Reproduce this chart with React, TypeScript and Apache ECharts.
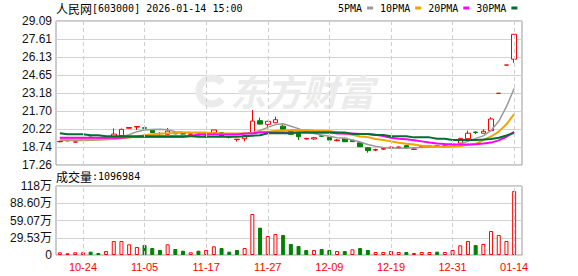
import React, { useEffect, useRef } from "react";
import * as echarts from "echarts";

// ---------- data ----------
const dates = [
  "10-21", "10-22", "10-23", "10-24", "10-27", "10-28", "10-29", "10-30", "10-31", "11-03",
  "11-04", "11-05", "11-06", "11-07", "11-10", "11-11", "11-12", "11-13", "11-14", "11-17",
  "11-18", "11-19", "11-20", "11-21", "11-24", "11-25", "11-26", "11-27", "11-28", "12-01",
  "12-02", "12-03", "12-04", "12-05", "12-08", "12-09", "12-10", "12-11", "12-12", "12-15",
  "12-16", "12-17", "12-18", "12-19", "12-22", "12-23", "12-24", "12-25", "12-26", "12-29",
  "12-30", "12-31", "01-05", "01-06", "01-07", "01-08", "01-09", "01-12", "01-13", "01-14",
];

// [open, close, low, high]
const candles = [
  [19.17, 19.2, 19.12, 19.25], [19.24, 19.27, 19.2, 19.3], [19.14, 19.16, 19.1, 19.2], [19.38, 19.41, 19.35, 19.45],
  [19.55, 19.5, 19.45, 19.6], [19.5, 19.47, 19.42, 19.55], [19.45, 19.5, 19.42, 19.55], [19.57, 19.8, 19.55, 20.27],
  [19.67, 20.19, 19.65, 20.25], [20.28, 20.34, 20.25, 20.36], [20.38, 20.42, 20.13, 20.44], [20.32, 20.28, 20.11, 20.49],
  [20.18, 19.93, 19.9, 20.2], [19.86, 19.83, 19.7, 19.95], [19.78, 20.05, 19.75, 20.3], [19.9, 19.82, 19.78, 19.95],
  [19.85, 19.8, 19.75, 19.9], [19.78, 19.82, 19.74, 19.86], [19.8, 19.72, 19.7, 19.84], [19.6, 19.63, 19.5, 19.72],
  [19.9, 20.14, 19.88, 20.16], [19.92, 19.6, 19.55, 19.95], [19.6, 19.55, 19.45, 19.65], [19.35, 19.38, 19.18, 19.4],
  [19.42, 19.68, 19.2, 19.72], [19.86, 20.87, 19.8, 21.78], [20.9, 20.62, 20.58, 21.15], [20.6, 20.85, 20.27, 20.88],
  [20.73, 20.98, 20.7, 21.23], [20.45, 20.2, 20.1, 20.6], [20.0, 19.78, 19.75, 20.02], [19.87, 19.58, 19.3, 19.9],
  [19.4, 19.44, 19.35, 19.5], [19.4, 19.5, 19.33, 19.55], [19.66, 19.62, 19.6, 19.7], [19.53, 19.31, 19.3, 19.55],
  [19.26, 19.31, 19.2, 19.38], [19.45, 19.17, 19.15, 19.5], [19.3, 19.18, 19.15, 19.33], [19.09, 18.76, 18.75, 19.1],
  [18.68, 18.44, 18.27, 18.7], [18.48, 18.53, 18.4, 18.6], [18.56, 18.62, 18.5, 18.68], [18.66, 18.72, 18.6, 18.78],
  [18.7, 18.74, 18.65, 18.78], [18.85, 18.66, 18.64, 18.88], [18.55, 18.58, 18.52, 18.6], [18.78, 18.82, 18.75, 18.85],
  [18.78, 18.82, 18.75, 18.86], [18.83, 18.79, 18.72, 18.9], [18.8, 18.83, 18.78, 18.88], [18.95, 18.98, 18.85, 19.1],
  [19.05, 19.45, 19.0, 19.47], [19.42, 19.87, 19.4, 20.08], [19.97, 19.93, 19.8, 20.0], [19.87, 20.03, 19.85, 20.2],
  [20.08, 21.04, 20.05, 21.18], [23.15, 23.15, 23.15, 23.15], [25.47, 25.47, 25.47, 25.47], [25.95, 28.0, 25.66, 28.0],
];

const volumes = [
  46000, 29000, 46000, 46000, 57000, 34000, 68000, 240000, 240000, 183000,
  137000, 171000, 120000, 86000, 183000, 103000, 74000, 46000, 74000, 86000,
  149000, 120000, 57000, 86000, 120000, 702000, 468000, 325000, 360000, 342000,
  188000, 154000, 86000, 86000, 103000, 86000, 68000, 68000, 97000, 120000,
  86000, 51000, 51000, 68000, 51000, 51000, 34000, 51000, 51000, 57000,
  51000, 86000, 166000, 240000, 171000, 188000, 411000, 342000, 240000, 1096984,
];

// 1 = rising (red hollow), 0 = falling (green filled)
const volumeUp = [
  1, 1, 1, 1, 0, 0, 1, 1, 1, 1,
  1, 0, 0, 0, 1, 0, 0, 1, 0, 1,
  1, 0, 0, 0, 1, 1, 0, 1, 1, 0,
  0, 0, 0, 1, 0, 0, 1, 0, 1, 0,
  0, 1, 1, 1, 1, 0, 1, 1, 1, 0,
  1, 1, 1, 1, 0, 1, 1, 1, 1, 1,
];

const ma5 = [
  19.3, 19.3, 19.28, 19.28, 19.3, 19.32, 19.35, 19.4, 19.58, 19.75,
  20.0, 20.14, 20.18, 20.2, 20.15, 20.0, 19.95, 19.92, 19.9, 19.86,
  19.85, 19.82, 19.8, 19.78, 19.8, 19.9, 20.1, 20.35, 20.58, 20.65,
  20.45, 20.25, 20.0, 19.85, 19.72, 19.62, 19.5, 19.45, 19.32, 19.15,
  18.95, 18.8, 18.7, 18.65, 18.63, 18.65, 18.68, 18.7, 18.72, 18.75,
  18.78, 18.85, 19.0, 19.2, 19.45, 19.65, 20.1, 20.85, 22.05, 23.55,
];
const ma10 = [
  19.38, 19.38, 19.38, 19.38, 19.38, 19.38, 19.38, 19.4, 19.45, 19.52,
  19.6, 19.7, 19.78, 19.82, 19.86, 19.88, 19.92, 19.94, 19.94, 19.92,
  19.86, 19.85, 19.84, 19.84, 19.85, 19.9, 20.0, 20.0, 20.05, 20.1,
  20.14, 20.14, 20.14, 20.1, 20.08, 20.05, 19.94, 19.82, 19.75, 19.6,
  19.55, 19.4, 19.32, 19.2, 19.08, 19.0, 18.95, 18.85, 18.8, 18.75,
  18.74, 18.76, 18.82, 18.92, 19.0, 19.3, 19.6, 20.0, 20.6, 21.45,
];
const ma20 = [
  19.5, 19.5, 19.5, 19.5, 19.5, 19.5, 19.5, 19.5, 19.5, 19.56,
  19.56, 19.56, 19.56, 19.56, 19.56, 19.56, 19.56, 19.65, 19.76, 19.76,
  19.76, 19.76, 19.76, 19.76, 19.84, 19.84, 19.94, 19.94, 19.94, 19.94,
  19.94, 19.94, 19.94, 19.94, 19.94, 19.94, 19.85, 19.85, 19.85, 19.8,
  19.8, 19.75, 19.65, 19.5, 19.42, 19.38, 19.3, 19.2, 19.1, 19.02,
  18.98, 18.96, 18.95, 18.95, 18.96, 19.02, 19.1, 19.28, 19.58, 19.98,
];
const ma30 = [
  19.86, 19.78, 19.78, 19.78, 19.7, 19.7, 19.62, 19.62, 19.62, 19.62,
  19.62, 19.62, 19.62, 19.62, 19.62, 19.62, 19.62, 19.62, 19.58, 19.58,
  19.58, 19.58, 19.58, 19.58, 19.62, 19.67, 19.7, 19.86, 19.86, 19.86,
  19.86, 19.94, 19.94, 19.94, 19.94, 19.94, 19.94, 19.94, 19.8, 19.8,
  19.8, 19.72, 19.72, 19.62, 19.62, 19.62, 19.53, 19.53, 19.53, 19.42,
  19.42, 19.32, 19.32, 19.32, 19.32, 19.35, 19.4, 19.5, 19.68, 19.9,
];

const priceTickLabels = ["17.26", "18.74", "20.22", "21.70", "23.18", "24.65", "26.13", "27.61", "29.09"];
const volumeTickLabels = ["0", "29.53万", "59.07万", "88.60万", "118万"];
const xTickLabels = ["10-24", "11-05", "11-17", "11-27", "12-09", "12-19", "12-31", "01-14"];
const maNames = ["5PMA", "10PMA", "20PMA", "30PMA"];
const maColors = ["#9a9a9a", "#f5a300", "#ff00ff", "#006f30"];
const priceMin = 17.26;
const priceMax = 29.09;
const volumeMax = 1181400;
const lastVolume = 1096984;

const UP = "#ff0000";
const DOWN = "#008000";

export default function App() {
  const ref = useRef<HTMLDivElement>(null);

  useEffect(() => {
    document.body.style.margin = "0";
    if (!ref.current) return;
    const chart = echarts.init(ref.current, undefined, { renderer: "svg" });

    const priceTickValues = priceTickLabels.map((s) => parseFloat(s));
    const volInterval = volumeMax / 4;

    const dashed = {
      silent: true,
      symbol: ["none", "none"],
      label: { show: false },
      lineStyle: { color: "#cfcfcf", type: [4, 3], width: 1 },
      emphasis: { disabled: true },
      data: xTickLabels.map((d) => ({ xAxis: d })),
    };

    const maSeries = [ma5, ma10, ma20, ma30].map((arr, i) => ({
      name: maNames[i],
      type: "line",
      xAxisIndex: 1,
      yAxisIndex: 1,
      data: arr,
      showSymbol: false,
      symbol: "none",
      z: 4,
      lineStyle: { color: maColors[i], width: i === 0 ? 1.5 : 2 },
      itemStyle: { color: maColors[i] },
      emphasis: { disabled: true },
    }));

    const option: any = {
      animation: false,
      backgroundColor: "#ffffff",
      legend: {
        data: maNames,
        left: 338,
        top: 3,
        padding: 0,
        itemGap: 7,
        itemWidth: 6,
        itemHeight: 3,
        icon: "rect",
        align: "right",
        selectedMode: false,
        textStyle: { fontFamily: "DejaVu Sans Mono", fontSize: 10, color: "#000" },
      },
      grid: [
        { left: 56, top: 21, width: 466, height: 144, show: true, borderColor: "#999", borderWidth: 1, backgroundColor: "transparent" },
        { left: 56, top: 21, width: 462, height: 144 },
        { left: 56, top: 186, width: 466, height: 69, show: true, borderColor: "#999", borderWidth: 1, backgroundColor: "transparent" },
        { left: 56, top: 186, width: 462, height: 69 },
      ],
      xAxis: [
        { type: "value", gridIndex: 0, min: 0, max: 1, show: false },
        { type: "category", gridIndex: 1, data: dates, boundaryGap: true, show: false },
        { type: "value", gridIndex: 2, min: 0, max: 1, show: false },
        {
          type: "category",
          gridIndex: 3,
          data: dates,
          boundaryGap: true,
          axisLine: { show: false },
          axisTick: { show: false },
          splitLine: { show: false },
          axisLabel: {
            show: true,
            interval: (_i: number, v: string) => xTickLabels.includes(v),
            color: "#ff0000",
            fontSize: 11,
            fontFamily: "Liberation Sans, Arial, sans-serif",
            margin: 6,
          },
        },
      ],
      yAxis: [
        {
          type: "value",
          gridIndex: 0,
          min: priceMin,
          max: priceMax,
          axisLine: { show: false },
          axisTick: { show: false, customValues: priceTickValues },
          splitLine: { show: true, lineStyle: { color: "#d2d2d2", width: 1 } },
          axisLabel: {
            customValues: priceTickValues,
            formatter: (v: number) => {
              let best = 0;
              priceTickValues.forEach((t, i) => {
                if (Math.abs(t - v) < Math.abs(priceTickValues[best] - v)) best = i;
              });
              return priceTickLabels[best];
            },
            color: "#111",
            fontSize: 12,
            fontFamily: "Liberation Sans, Arial, sans-serif",
            margin: 4,
          },
        },
        { type: "value", gridIndex: 1, min: priceMin, max: priceMax, show: false, splitLine: { show: false } },
        {
          type: "value",
          gridIndex: 2,
          min: 0,
          max: volumeMax,
          interval: volInterval,
          axisLine: { show: false },
          axisTick: { show: false },
          splitLine: { show: true, lineStyle: { color: "#d2d2d2", width: 1 } },
          axisLabel: {
            formatter: (v: number) => volumeTickLabels[Math.round(v / volInterval)] ?? "",
            color: "#111",
            fontSize: 12,
            fontFamily: "Liberation Sans, Noto Sans CJK SC, sans-serif",
            margin: 4,
          },
        },
        { type: "value", gridIndex: 3, min: 0, max: volumeMax, show: false, splitLine: { show: false } },
      ],
      graphic: [
        {
          type: "arc",
          z: 1,
          silent: true,
          shape: { cx: 212, cy: 91, r: 13, startAngle: 0.7, endAngle: 5.6 },
          style: { stroke: "#ebebeb", lineWidth: 7, fill: "none" },
        },
        {
          type: "text",
          z: 1,
          silent: true,
          x: 230,
          y: 72,
          style: {
            text: "东方财富",
            fontSize: 36,
            fontWeight: "bold",
            fontStyle: "italic",
            fontFamily: "Noto Sans CJK SC",
            fill: "#ebebeb",
          },
        },
        {
          type: "text",
          x: 56,
          y: 2,
          style: {
            text: "{cn|人民网}{en|[603000] 2026-01-14 15:00}",
            rich: {
              cn: { fontFamily: "Noto Sans CJK SC", fontSize: 12, fill: "#000" },
              en: { fontFamily: "DejaVu Sans Mono", fontSize: 10, fill: "#000" },
            },
          },
        },
        {
          type: "text",
          x: 56,
          y: 170,
          style: {
            text: "{cn|成交量}{en|:" + lastVolume + "}",
            rich: {
              cn: { fontFamily: "Noto Sans CJK SC", fontSize: 12, fill: "#000" },
              en: { fontFamily: "DejaVu Sans Mono", fontSize: 10, fill: "#000" },
            },
          },
        },
      ],
      series: [
        {
          name: "K",
          type: "candlestick",
          xAxisIndex: 1,
          yAxisIndex: 1,
          data: candles,
          barWidth: 5,
          z: 3,
          itemStyle: { color: "#ffffff", color0: DOWN, borderColor: UP, borderColor0: DOWN, borderWidth: 1 },
          emphasis: { disabled: true },
          markLine: dashed,
        },
        ...maSeries,
        {
          name: "VOL",
          type: "bar",
          xAxisIndex: 3,
          yAxisIndex: 3,
          barWidth: 4,
          z: 3,
          data: volumes.map((v, i) => ({
            value: v,
            itemStyle: volumeUp[i]
              ? { color: "#ffffff", borderColor: UP, borderWidth: 1 }
              : { color: DOWN, borderColor: DOWN, borderWidth: 1 },
          })),
          emphasis: { disabled: true },
          markLine: dashed,
        },
      ],
    };

    chart.setOption(option);
    return () => chart.dispose();
  }, []);

  return <div ref={ref} style={{ width: 578, height: 276 }} />;
}
